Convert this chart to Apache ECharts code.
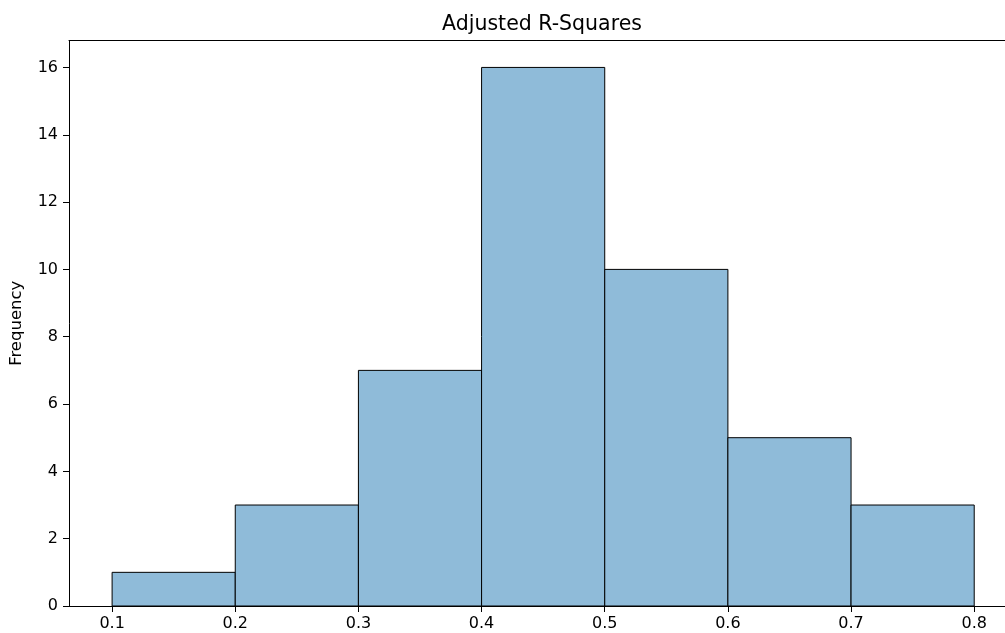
<!DOCTYPE html>
<html>
<head>
<meta charset="utf-8">
<script src="https://cdn.jsdelivr.net/npm/echarts@6/dist/echarts.min.js"></script>
<style>
html,body{margin:0;padding:0;background:#fff;}
#chart{width:1005px;height:633px;}
</style>
</head>
<body>
<div id="chart"></div>
<script>
const binEdges = [0.1, 0.2, 0.3, 0.4, 0.5, 0.6, 0.7, 0.8];
const counts = [1, 3, 7, 16, 10, 5, 3];
const xTicks = [0.1, 0.2, 0.3, 0.4, 0.5, 0.6, 0.7, 0.8];
const yTicks = [0, 2, 4, 6, 8, 10, 12, 14, 16];

const bins = counts.map((c, i) => [binEdges[i], binEdges[i + 1], c]);

const chart = echarts.init(document.getElementById('chart'), null, {renderer: 'canvas'});
const font = 'DejaVu Sans';
chart.setOption({
  animation: false,
  backgroundColor: '#fff',
  title: {
    text: 'Adjusted R-Squares',
    left: 537, textAlign: 'center', top: 9,
    textStyle: {fontFamily: font, fontSize: 20.5, fontWeight: 'normal', color: '#000'}
  },
  grid: {
    left: 69, top: 40.5, bottom: 27, right: 0,
    show: false, containLabel: false, outerBoundsMode: 'none'
  },
  xAxis: [{
    type: 'value', min: 0.065, max: 0.825,
    splitLine: {show: false},
    axisLine: {show: true, onZero: false, lineStyle: {color: '#000', width: 1}},
    axisTick: {show: true, length: 6, lineStyle: {color: '#000'}, customValues: xTicks},
    axisLabel: {
      fontFamily: font, fontSize: 16, color: '#000', margin: 10,
      customValues: xTicks,
      formatter: v => v.toFixed(1)
    }
  }, {
    type: 'value', min: 0.065, max: 0.825, position: 'top',
    splitLine: {show: false},
    axisLine: {show: true, onZero: false, lineStyle: {color: '#000', width: 1}},
    axisTick: {show: false},
    axisLabel: {show: false}
  }],
  yAxis: {
    type: 'value', min: 0, max: 16.8,
    name: 'Frequency', nameLocation: 'middle', nameGap: 44, nameRotate: 90,
    nameTextStyle: {fontFamily: font, fontSize: 16.5, color: '#000'},
    splitLine: {show: false},
    axisLine: {show: true, lineStyle: {color: '#000', width: 1}},
    axisTick: {show: true, length: 6, lineStyle: {color: '#000'}, customValues: yTicks},
    axisLabel: {
      fontFamily: font, fontSize: 16, color: '#000', margin: 11,
      customValues: yTicks
    }
  },
  series: [{
    type: 'custom',
    data: bins,
    xAxisIndex: 0,
    encode: {x: [0, 1], y: 2},
    renderItem: function (params, api) {
      const p0 = api.coord([api.value(0), 0]);
      const p1 = api.coord([api.value(1), api.value(2)]);
      return {
        type: 'rect',
        shape: {x: p0[0], y: p1[1], width: p1[0] - p0[0], height: p0[1] - p1[1]},
        style: {fill: '#8fbbd9', stroke: '#000', lineWidth: 1}
      };
    }
  }]
});
</script>
</body>
</html>
